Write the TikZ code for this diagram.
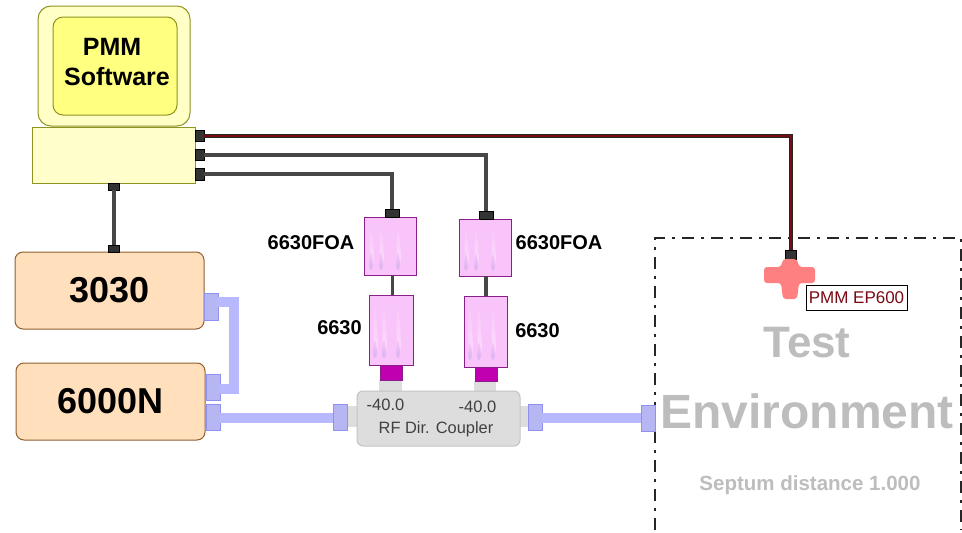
\documentclass[tikz,border=0pt]{standalone}
\usepackage{fontspec}
\setmainfont{Liberation Sans}
\definecolor{monfill}{HTML}{FFFFC6}
\definecolor{monin}{HTML}{FFFF80}
\definecolor{monedge}{HTML}{8F9420}
\definecolor{basefill}{HTML}{FFFFCC}
\definecolor{orfill}{HTML}{FFDFBC}
\definecolor{oredge}{HTML}{8F6030}
\definecolor{pinkfill}{HTML}{F9C4F9}
\definecolor{pinkedge}{HTML}{8A1F8A}
\definecolor{blueline}{HTML}{B8B8FF}
\definecolor{portfill}{HTML}{B6B6F2}
\definecolor{portedge}{HTML}{9090F0}
\definecolor{cablegrey}{HTML}{474747}
\definecolor{sockgrey}{HTML}{333333}
\definecolor{coupfill}{HTML}{DDDDDD}
\definecolor{coupedge}{HTML}{C4C4C4}
\definecolor{magconn}{HTML}{C000B0}
\definecolor{crosspink}{HTML}{FF8080}
\definecolor{wine}{HTML}{7A0A14}
\definecolor{envtext}{HTML}{BDBDBD}
\definecolor{tipblue}{HTML}{D8B4F0}
\tikzset{
  boxbase/.style={inner sep=0pt,outer sep=0pt,align=center},
  monouter/.style={boxbase,draw=monedge,fill=monfill,line width=1pt,rounded corners=13pt},
  moninner/.style={boxbase,draw=monedge,fill=monin,line width=1pt,rounded corners=10pt},
  monbase/.style={boxbase,draw=monedge,fill=basefill,line width=1pt},
  instr/.style={boxbase,draw=oredge,fill=orfill,line width=1pt,rounded corners=8pt,font=\bfseries\fontsize{36}{36}\selectfont},
  sensor/.style={boxbase,draw=pinkedge,fill=pinkfill,line width=1pt},
  sock/.style={boxbase,draw=black,fill=sockgrey,line width=.6pt},
  rfport/.style={boxbase,draw=portedge,fill=portfill,line width=.8pt},
  stub/.style={boxbase,fill=coupfill},
  magbox/.style={boxbase,draw=pinkedge,fill=magconn,line width=.8pt},
  coupler/.style={boxbase,draw=coupedge,fill=coupfill,line width=1pt,rounded corners=6pt},
  cable/.style={draw=cablegrey,line width=4pt},
  rfcable/.style={draw=blueline,line width=10.5pt},
  lbl/.style={inner sep=0pt,outer sep=0pt,font=\bfseries\fontsize{20}{20}\selectfont},
  cplbl/.style={inner sep=0pt,outer sep=0pt,text=black!75,font=\fontsize{16.5}{16.5}\selectfont},
  envlbl/.style={inner sep=0pt,outer sep=0pt,text=envtext,font=\bfseries},
  probelbl/.style={boxbase,draw=black,fill=white,line width=1pt,text=wine,font=\fontsize{17}{17}\selectfont},
  envframe/.style={draw=black!85,line width=1.2pt,dash pattern=on 12pt off 7pt on 3pt off 7pt}
}
\newcommand\bx[7]{%
  \pgfmathsetmacro\boxcx{(#2+#4)/2}\pgfmathsetmacro\boxcy{(#3+#5)/2}%
  \pgfmathsetmacro\boxw{#4-#2}\pgfmathsetmacro\boxh{#5-#3}%
  \node[#6,minimum width=\boxw pt,minimum height=\boxh pt] (#1) at (\boxcx,\boxcy) {#7};}
\newcommand\streaks[3]{%
  \foreach \sx in {#1}{%
    \shade[top color=pinkfill,bottom color=white!45!pinkfill]
      (\sx,#2) .. controls (\sx+3,#3-22) and (\sx+4,#3-8) .. (\sx+1,#3-4) -- (\sx+1,#3)
      .. controls (\sx-1,#3-8) and (\sx-3,#3-22) .. (\sx,#2);
    \shade[top color=pinkfill,bottom color=tipblue]
      (\sx,#3-18) .. controls (\sx+2.5,#3-10) and (\sx+2.5,#3) .. (\sx,#3)
      .. controls (\sx-2.5,#3) and (\sx-2.5,#3-10) .. (\sx,#3-18);
  }}
\begin{document}
\begin{tikzpicture}[x=1pt,y=-1pt]
\useasboundingbox (0,0) rectangle (962,533);
% test environment
\coordinate (envBL) at (655,530);
\coordinate (envTL) at (655,238);
\coordinate (envTR) at (961,238);
\coordinate (envBR) at (961,530);
\draw[envframe] (envBL) -- (envTL) -- (envTR) -- (envBR);
\node[envlbl,font=\bfseries\fontsize{44}{44}\selectfont] (envtest) at (807,343) {Test};
\node[envlbl,font=\bfseries\fontsize{48}{48}\selectfont] (envname) at (807,411) {Environment};
\node[envlbl,font=\bfseries\fontsize{20.5}{20.5}\selectfont] (envsept) at (810,485) {Septum distance 1.000};
% computer
\bx{monout}{38}{6}{190}{126}{monouter}{}
\bx{monin}{53}{17}{177}{115}{moninner}{}
\node[lbl,font=\bfseries\fontsize{25}{25}\selectfont] (pmm) at (112,47) {PMM};
\node[lbl,font=\bfseries\fontsize{25}{25}\selectfont] (soft) at (117,77) {Software};
\bx{base}{32}{127}{195}{183}{monbase}{}
% instruments
\bx{iA}{15}{252}{204}{329}{instr}{3030}
\bx{iB}{16}{363}{205}{440}{instr}{6000N}
% sensors
\bx{foaL}{364}{217}{416}{275}{sensor}{}
\bx{foaR}{459}{219}{511}{276}{sensor}{}
\bx{senL}{369}{295}{413}{365}{sensor}{}
\bx{senR}{464}{296}{507}{367}{sensor}{}
\streaks{371,381,398}{222}{270}
\streaks{466,476,493}{224}{271}
\streaks{375,384,398}{300}{358}
\streaks{470,479,493}{301}{360}
% sockets
\bx{sA}{195}{130}{204}{141}{sock}{}
\bx{sB}{195}{149}{204}{160}{sock}{}
\bx{sC}{195}{168}{204}{180}{sock}{}
\bx{sD}{108}{183}{119}{190}{sock}{}
\bx{sE}{108}{245}{119}{252}{sock}{}
\bx{sF}{385}{209}{399}{217}{sock}{}
\bx{sG}{479}{211}{493}{219}{sock}{}
\bx{sH}{785}{250}{796}{259}{sock}{}
% probe
\fill[crosspink,rounded corners=3pt] (783,259) -- (797,259) -- (799,267) -- (815,267) -- (815,283) -- (799,283) -- (797,299) -- (783,299) -- (781,283) -- (764,283) -- (764,267) -- (781,267) -- cycle;
\bx{plabel}{806}{285}{907}{310}{probelbl}{PMM EP600}
% cables
\draw[cable] (sD) -- (sE);
\draw[cable] (sB.east) -| (sG.north);
\draw[cable] (sC.east) -| (sF.north);
\draw[cable,line width=3pt] (foaL.south -| sF) -- (senL.north -| sF);
\draw[cable,line width=3.5pt] (foaR.south -| sG) -- (senR.north -| sG);
\draw[black!85,line width=4pt] (sA.east) -| (sH.north);
\draw[wine,line width=2pt] (sA.east) -| (sH.north);
% RF
\bx{stL}{347}{406}{358}{427}{stub}{}
\bx{stR}{519}{406}{529}{427}{stub}{}
\bx{stT}{379}{380}{402}{392}{stub}{}
\bx{stU}{474}{381}{496}{392}{stub}{}
\bx{cpl}{357}{391}{520}{446}{coupler}{}
\node[cplbl] (cplA) at (385.5,405) {-40.0};
\node[cplbl] (cplB) at (477.5,407) {-40.0};
\node[cplbl,font=\fontsize{16.4}{16.4}\selectfont] (cplC) at (436,429) {RF Dir. Coupler};
\bx{mgL}{380}{365}{402}{380}{magbox}{}
\bx{mgR}{475}{367}{497}{381}{magbox}{}
\bx{pA}{204}{293}{218}{320}{rfport}{}
\bx{pB}{206}{374}{220}{400}{rfport}{}
\bx{pC}{206}{404}{220}{430}{rfport}{}
\bx{pD}{333}{404}{347}{430}{rfport}{}
\bx{pE}{528}{404}{542}{430}{rfport}{}
\bx{pF}{641}{405}{655}{431}{rfport}{}
\coordinate (elbowA) at (234,302);
\coordinate (elbowB) at (234,389);
\coordinate (rfy) at (0,418);
\draw[rfcable] (pA.east |- elbowA) -- (elbowA) -- (elbowB) -- (pB.east |- elbowB);
\draw[rfcable] (pC.east |- rfy) -- (pD.west |- rfy);
\draw[rfcable] (pE.east |- rfy) -- (pF.west |- rfy);
% labels
\node[lbl] (lfoaL) at (311,243) {6630FOA};
\node[lbl] (lfoaR) at (559,243) {6630FOA};
\node[lbl] (lsenL) at (339.5,328) {6630};
\node[lbl] (lsenR) at (537.5,331) {6630};
\end{tikzpicture}
\end{document}
